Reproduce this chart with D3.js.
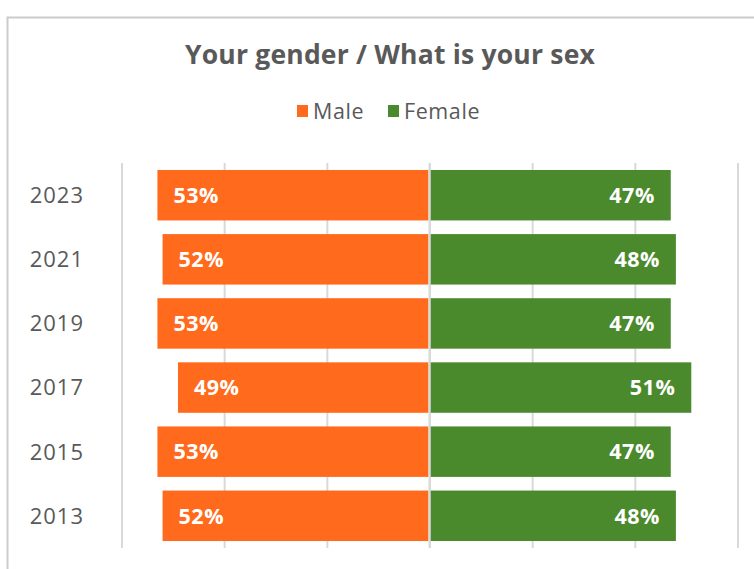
<!DOCTYPE html>
<html>
<head>
<meta charset="utf-8">
<script src="https://cdn.jsdelivr.net/npm/d3@7"></script>
<style>
  html, body { margin: 0; padding: 0; background: #fff; }
  svg { display: block; }
  text { font-family: "Open Sans", Lato, sans-serif; }
</style>
</head>
<body>
<svg id="chart" width="754" height="569"></svg>
<script>
// Survey responses by year (percent)
const years = ["2023", "2021", "2019", "2017", "2015", "2013"];
const male = [53, 52, 53, 49, 53, 52];
const female = [47, 48, 47, 51, 47, 48];
const gridTicks = [-60, -40, -20, 0, 20, 40, 60];
const seriesNames = ["Male", "Female"];
const seriesColors = ["#FF6A1C", "#4A8A2C"];
const title = "Your gender / What is your sex";

const svg = d3.select("#chart");
const textColor = "#595959";
const fontFamily = "'Open Sans', Lato, sans-serif";

// Card frame
svg.append("path")
  .attr("d", "M7.5,569 V17.5 H754")
  .attr("fill", "none")
  .attr("stroke", "#cccccc")
  .attr("stroke-width", 2);

// Title
svg.append("text")
  .attr("x", 390).attr("y", 64)
  .attr("text-anchor", "middle")
  .attr("font-size", 26.5).attr("font-weight", 700)
  .attr("letter-spacing", 0.2)
  .attr("fill", textColor)
  .text(title);

// Legend
const legend = svg.append("g");
const legendItems = [
  { name: seriesNames[0], color: seriesColors[0], x: 297 },
  { name: seriesNames[1], color: seriesColors[1], x: 388 }
];
legendItems.forEach(d => {
  legend.append("rect")
    .attr("x", d.x).attr("y", 105).attr("width", 11).attr("height", 12)
    .attr("fill", d.color);
  legend.append("text")
    .attr("x", d.x + 16).attr("y", 119)
    .attr("font-size", 21.5).attr("letter-spacing", 0.6).attr("fill", textColor)
    .text(d.name);
});

// Scales
const plotTop = 163, plotBottom = 548;
const x = d3.scaleLinear().domain([-60, 60]).range([121.5, 737.5]);
const y = d3.scaleBand().domain(years).range([plotTop, plotBottom])
  .paddingInner(0.213).paddingOuter(0.109);

// Vertical gridlines
const grid = svg.append("g")
  .attr("transform", `translate(0,${plotBottom})`)
  .call(d3.axisBottom(x).tickValues(gridTicks).tickSize(-(plotBottom - plotTop)).tickFormat(""));
grid.select(".domain").remove();
grid.selectAll(".tick line").attr("stroke", "#d9d9d9").attr("stroke-width", 2);

// Year labels
const yAxis = svg.append("g")
  .attr("transform", "translate(84,0)")
  .call(d3.axisLeft(y).tickSize(0).tickPadding(0));
yAxis.select(".domain").remove();
yAxis.selectAll(".tick text")
  .attr("font-size", 22).attr("fill", textColor)
  .attr("font-family", fontFamily)
  .attr("letter-spacing", 1)
  .attr("dy", "0.36em");

const rows = years.map((yr, i) => ({ year: yr, male: male[i], female: female[i] }));

// Male bars (to the left)
svg.append("g").selectAll("rect").data(rows).join("rect")
  .attr("x", d => x(-d.male))
  .attr("y", d => y(d.year))
  .attr("width", d => x(0) - x(-d.male) - 1)
  .attr("height", y.bandwidth())
  .attr("fill", seriesColors[0]);

// Female bars (to the right)
svg.append("g").selectAll("rect").data(rows).join("rect")
  .attr("x", x(0) + 1)
  .attr("y", d => y(d.year))
  .attr("width", d => x(d.female) - x(0) - 1)
  .attr("height", y.bandwidth())
  .attr("fill", seriesColors[1]);

// Zero line over the bars
svg.append("line")
  .attr("x1", x(0)).attr("x2", x(0))
  .attr("y1", plotTop).attr("y2", plotBottom)
  .attr("stroke", "#d9d9d9").attr("stroke-width", 2);

// Value labels
const labels = svg.append("g")
  .attr("font-size", 21.5).attr("font-weight", 700).attr("fill", "#ffffff")
  .attr("letter-spacing", 0.5);
labels.selectAll("text.m").data(rows).join("text")
  .attr("class", "m")
  .attr("x", d => x(-d.male) + 16)
  .attr("y", d => y(d.year) + y.bandwidth() / 2)
  .attr("dy", "0.36em")
  .text(d => d.male + "%");
labels.selectAll("text.f").data(rows).join("text")
  .attr("class", "f")
  .attr("x", d => x(d.female) - 16)
  .attr("y", d => y(d.year) + y.bandwidth() / 2)
  .attr("dy", "0.36em")
  .attr("text-anchor", "end")
  .text(d => d.female + "%");
</script>
</body>
</html>
